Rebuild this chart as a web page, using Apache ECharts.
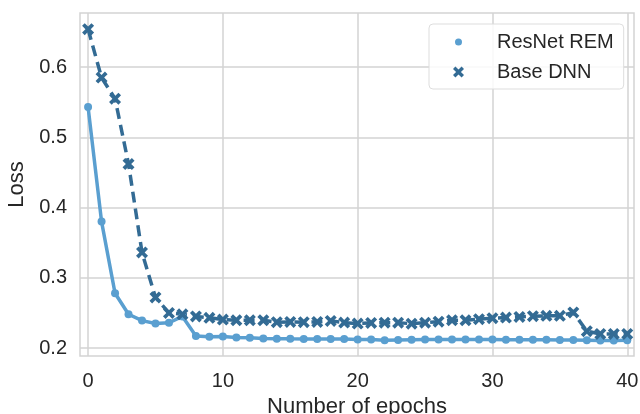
<!DOCTYPE html>
<html>
<head>
    <meta charset="utf-8">
    <title>Loss vs epochs</title>
    <script src="https://cdn.jsdelivr.net/npm/echarts@6/dist/echarts.min.js"></script>
    <style>
        html,body{
            height:100%;
            width:100%;
            margin:0;
            padding:0;
            background:#fff;
        }
        #chart{
            width:640px;
            height:414px;
        }
    </style>
</head>
<body>
<div id="chart"></div>
<script>
    // epochs (x values)
    var epochs = [0,1,2,3,4,5,6,7,8,9,10,11,12,13,14,15,16,17,18,19,20,
                  21,22,23,24,25,26,27,28,29,30,31,32,33,34,35,36,37,38,39,40];
    // ResNet REM loss
    var resnetLoss = [0.543,0.380,0.278,0.248,0.239,0.235,0.236,0.245,0.217,0.216,
                      0.2165,0.215,0.2145,0.2135,0.2133,0.213,0.2128,0.2128,0.2128,0.2128,
                      0.212,0.212,0.211,0.2115,0.2118,0.212,0.212,0.212,0.212,0.212,
                      0.212,0.2118,0.2118,0.2118,0.2118,0.2115,0.2115,0.211,0.2105,0.2105,0.211];
    // Base DNN loss
    var baseLoss = [0.654,0.585,0.555,0.462,0.336,0.272,0.250,0.248,0.245,0.243,
                    0.2405,0.2395,0.2395,0.2395,0.2367,0.2371,0.2367,0.2371,0.2386,0.2362,
                    0.2348,0.2357,0.236,0.236,0.2346,0.236,0.2375,0.2395,0.2395,0.241,
                    0.2424,0.2433,0.2443,0.2453,0.2458,0.2458,0.2506,0.224,0.220,0.220,0.220];
    // tick labels
    var xTicks = [0,10,20,30,40];
    var yTicks = [0.2,0.3,0.4,0.5,0.6];

    var FONT = '"Liberation Sans", Arial, sans-serif';
    var gridColor = '#d3d3d3';
    // filled "X" marker
    var crossPath = 'path://M2.2,0 L5,2.8 L7.8,0 L10,2.2 L7.2,5 L10,7.8 L7.8,10 L5,7.2 L2.2,10 L0,7.8 L2.8,5 L0,2.2 Z';
    // smaller dot for the legend (tiny corner specks keep the box size)
    var legendDot = 'path://M2,5.5 A3.5,3.5 0 1 1 9,5.5 A3.5,3.5 0 1 1 2,5.5 Z M0,0 L0.01,0 L0,0.01 Z M11,11 L10.99,11 L11,10.99 Z';

    function pairs(xs, ys) {
        var out = [];
        for (var i = 0; i < xs.length; i++) out.push([xs[i], ys[i]]);
        return out;
    }

    var myChart = echarts.init(document.getElementById('chart'), null, {renderer:'canvas'});

    var option = {
        animation:false,
        textStyle:{fontFamily:FONT},
        grid:{
            left:80, right:6, top:13, bottom:58,
            outerBoundsMode:'none',
            containLabel:false,
            show:true,
            borderColor:gridColor,
            borderWidth:1.5
        },
        legend:{
            orient:'vertical',
            left:429, top:24,
            padding:[8,10,7,24],
            itemGap:10,
            itemWidth:11,
            itemHeight:11,
            backgroundColor:'rgba(255,255,255,0.85)',
            borderColor:'#dddddd',
            borderWidth:1,
            borderRadius:4,
            textStyle:{
                fontFamily:FONT,
                fontSize:20,
                color:'#262626',
                lineHeight:20,
                padding:[0,0,0,28]
            },
            data:[
                {name:'ResNet REM', icon:legendDot},
                {name:'Base DNN', icon:crossPath}
            ]
        },
        xAxis:{
            type:'value',
            min:-0.6,
            max:40.5,
            name:'Number of epochs',
            nameLocation:'middle',
            nameGap:36,
            nameTextStyle:{fontFamily:FONT, fontSize:22, color:'#262626'},
            axisLine:{show:false},
            axisTick:{show:false, customValues:xTicks},
            axisLabel:{
                customValues:xTicks,
                fontFamily:FONT, fontSize:20, color:'#262626', margin:15
            },
            splitLine:{show:true, lineStyle:{color:gridColor, width:1.5}}
        },
        yAxis:{
            type:'value',
            min:0.1886,
            max:0.677,
            name:'Loss',
            nameLocation:'middle',
            nameGap:52,
            nameTextStyle:{fontFamily:FONT, fontSize:22, color:'#262626'},
            axisLine:{show:false},
            axisTick:{show:false, customValues:yTicks},
            axisLabel:{
                customValues:yTicks,
                fontFamily:FONT, fontSize:20, color:'#262626', margin:13,
                formatter:function(v){ return v.toFixed(1); }
            },
            splitLine:{show:true, lineStyle:{color:gridColor, width:1.5}}
        },
        series:[
            {
                name:'ResNet REM',
                type:'line',
                data:pairs(epochs, resnetLoss),
                symbol:'circle',
                symbolSize:8,
                lineStyle:{color:'#5a9fd0', width:3.5},
                itemStyle:{color:'#5a9fd0'}
            },
            {
                name:'Base DNN',
                type:'line',
                data:pairs(epochs, baseLoss),
                symbol:crossPath,
                symbolSize:12,
                lineStyle:{color:'#336b94', width:3.5, type:[11,6]},
                itemStyle:{color:'#336b94'}
            }
        ]
    };
    myChart.setOption(option);
</script>
</body>
</html>
